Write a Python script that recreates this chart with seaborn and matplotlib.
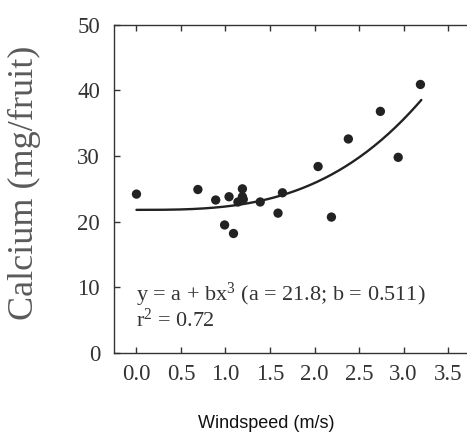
import numpy as np
import pandas as pd
import matplotlib
matplotlib.use("Agg")
import matplotlib.pyplot as plt
import seaborn as sns

# Observed calcium content per fruit against windspeed
windspeed = [0.00, 0.69, 0.89, 1.04, 1.19, 1.19, 1.14, 1.20, 0.99, 1.09,
             1.39, 1.64, 1.59, 2.04, 2.19, 2.38, 2.74, 2.94, 3.19]
calcium = [24.2, 24.9, 23.3, 23.8, 25.0, 23.8, 23.0, 23.4, 19.5, 18.2,
           23.0, 24.4, 21.3, 28.4, 20.7, 32.6, 36.8, 29.8, 40.9]

# Fitted model y = a + b x^3
a_coef = 21.8
b_coef = 0.511
r_squared = 0.72
fit_x = np.linspace(0.0, 3.2, 200)
fit_y = a_coef + b_coef * fit_x ** 3

x_ticks = [0.0, 0.5, 1.0, 1.5, 2.0, 2.5, 3.0, 3.5]
y_ticks = [0, 10, 20, 30, 40, 50]

sns.set_theme(style="ticks")
plt.rcParams["font.family"] = ["Liberation Serif", "DejaVu Serif"]
plt.rcParams["mathtext.fontset"] = "custom"
plt.rcParams["mathtext.rm"] = "Liberation Serif"
plt.rcParams["mathtext.it"] = "Liberation Serif:italic"

fig = plt.figure(figsize=(4.67, 4.43), dpi=100)
ax = fig.add_axes([0.244, 0.2032, 0.756, 0.741])

obs = pd.DataFrame({"windspeed": windspeed, "calcium": calcium})
fit = pd.DataFrame({"windspeed": fit_x, "calcium": fit_y})

sns.lineplot(data=fit, x="windspeed", y="calcium", ax=ax, color="#222222",
             linewidth=1.7, zorder=2)
sns.scatterplot(data=obs, x="windspeed", y="calcium", ax=ax, color="#222222",
                s=45, edgecolor="none", zorder=3)

ax.set_xlim(-0.253, 3.713)
ax.set_ylim(0, 50)
ax.set_xticks(x_ticks)
ax.set_xticklabels([f"{v:.1f}" for v in x_ticks])
ax.set_yticks(y_ticks)
ax.set_yticklabels([str(v) for v in y_ticks])

for side in ["left", "bottom", "top"]:
    ax.spines[side].set_color("#333333")
    ax.spines[side].set_linewidth(1.0)
ax.spines["right"].set_visible(False)

ax.tick_params(axis="both", direction="in", length=4, width=1.0,
               color="#333333", labelcolor="#333333", labelsize=16.5)
ax.tick_params(axis="x", top=True, labeltop=False, pad=8)
ax.tick_params(axis="y", pad=10)

ax.set_xlabel("")
ax.set_ylabel("")

fig.text(24 / 467, 1 - 183 / 443, "Calcium (mg/fruit)", rotation=90,
         ha="center", va="center", fontsize=26, color="#5a5a5a")

fig.text(266 / 467, 1 - 423 / 443, "Windspeed (m/s)",
         ha="center", va="center", fontsize=13, color="#111111",
         family=["Liberation Sans", "DejaVu Sans"])

ax.text(0.0, 7.9,
        r"y = a + bx$^{\mathrm{3}}$" + f" (a = {a_coef}; b = {b_coef})",
        fontsize=16, color="#333333", ha="left", va="baseline")
ax.text(0.0, 3.95, r"r$^{\mathrm{2}}$" + f" = {r_squared}",
        fontsize=16, color="#333333", ha="left", va="baseline")

fig.savefig("out.png", dpi=100, facecolor="white")
